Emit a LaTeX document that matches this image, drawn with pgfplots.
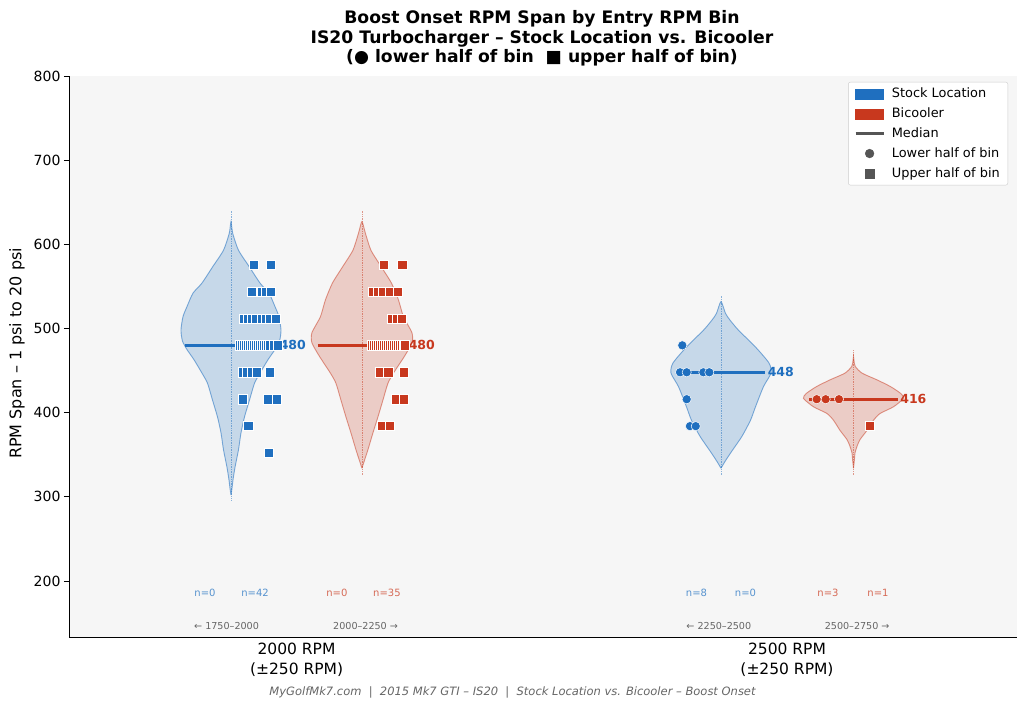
\documentclass[border=0pt]{standalone}
\usepackage{fontspec}
\setmainfont{DejaVu Sans}
\usepackage{pgfplots}
\pgfplotsset{compat=1.18}
\usepackage{pgfplotstable}
\definecolor{stockblue}{HTML}{1F6FBF}
\definecolor{bicred}{HTML}{C8381E}
\definecolor{bggray}{HTML}{F6F6F6}
\definecolor{legdark}{HTML}{555555}
\newcommand\fs[2]{\fontsize{#1}{#2}\selectfont}
\pgfplotsset{fp/.style={forget plot}}

% violin outlines: s = side (+1 right, -1 left), w = fraction of max half-width
\pgfplotstableread{
y w s
302 0 1
310 0.02 1
320 0.04 1
335 0.08 1
356 0.15 1
376 0.20 1
395 0.27 1
415 0.37 1
435 0.47 1
447 0.58 1
463 0.74 1
475 0.88 1
485 0.97 1
498 1.00 1
514 0.96 1
526 0.88 1
542 0.76 1
554 0.58 1
573 0.37 1
593 0.15 1
613 0.035 1
627 0 1
613 0.035 -1
593 0.15 -1
573 0.37 -1
554 0.58 -1
542 0.76 -1
526 0.88 -1
514 0.96 -1
498 1.00 -1
485 0.97 -1
475 0.88 -1
463 0.74 -1
447 0.58 -1
435 0.47 -1
415 0.37 -1
395 0.27 -1
376 0.20 -1
356 0.15 -1
335 0.08 -1
320 0.04 -1
310 0.02 -1
302 0 -1
}\vSA
\pgfplotstableread{
y w s
334 0 1
345 0.06 1
356 0.12 1
376 0.22 1
395 0.32 1
415 0.42 1
435 0.52 1
447 0.63 1
467 0.85 1
483 1.00 1
495 1.00 1
514 0.83 1
534 0.73 1
554 0.59 1
573 0.39 1
593 0.18 1
613 0.07 1
627 0 1
613 0.07 -1
593 0.18 -1
573 0.39 -1
554 0.59 -1
534 0.73 -1
514 0.83 -1
495 1.00 -1
483 1.00 -1
467 0.85 -1
447 0.63 -1
435 0.52 -1
415 0.42 -1
395 0.32 -1
376 0.22 -1
356 0.12 -1
345 0.06 -1
334 0 -1
}\vBA
\pgfplotstableread{
y w s
334 0 1
342 0.08 1
352 0.19 1
372 0.42 1
391 0.59 1
407 0.69 1
431 0.85 1
447 1.00 1
459 0.96 1
478 0.69 1
498 0.35 1
510 0.18 1
518 0.09 1
532 0 1
518 0.09 -1
510 0.18 -1
498 0.35 -1
478 0.69 -1
459 0.96 -1
447 1.00 -1
431 0.85 -1
407 0.69 -1
391 0.59 -1
372 0.42 -1
352 0.19 -1
342 0.08 -1
334 0 -1
}\vSB
\pgfplotstableread{
y w s
334 0 1
345 0.02 1
352 0.03 1
360 0.07 1
368 0.13 1
379 0.27 1
391 0.40 1
399 0.53 1
407 0.80 1
417 1.00 1
423 0.94 1
431 0.74 1
439 0.47 1
447 0.17 1
455 0.035 1
462 0.01 1
467 0 1
462 0.01 -1
455 0.035 -1
447 0.17 -1
439 0.47 -1
431 0.74 -1
423 0.94 -1
417 1.00 -1
407 0.80 -1
399 0.53 -1
391 0.40 -1
379 0.27 -1
368 0.13 -1
360 0.07 -1
352 0.03 -1
345 0.02 -1
334 0 -1
}\vBB

\begin{document}
\begin{tikzpicture}
\path[use as bounding box, fill=white] (0pt,0pt) rectangle (1024pt,709pt);
\begin{axis}[
  at={(69pt,72pt)}, anchor=south west,
  width=948pt, height=561pt, scale only axis,
  xmin=-0.464, xmax=1.469, ymin=133.5, ymax=800,
  axis background/.style={fill=bggray},
  axis x line*=bottom, axis y line*=left,
  axis line style={black, line width=0.9pt},
  xtick={0,1},
  xticklabels={{2000 RPM\\(±250 RPM)},{2500 RPM\\(±250 RPM)}},
  xticklabel style={align=center, font=\fs{15.5}{20}, yshift=3pt},
  xtick style={draw=none},
  ytick={200,300,400,500,600,700,800},
  yticklabel style={font=\fs{14}{16}},
  tick align=outside, ytick style={black, line width=0.8pt}, major tick length=5pt,
  /pgf/number format/assume math mode=true,
  legend style={at={(1,1)}, anchor=north east, xshift=-9pt, yshift=-6pt,
    draw=black!20, fill=white, rounded corners=2pt, font=\fs{12.9}{15},
    row sep=4.6pt, column sep=5pt, inner xsep=6pt, inner ysep=4pt},
  legend cell align=left,
]
\addlegendimage{legend image code/.code={\fill[stockblue, sharp corners] (0pt,-5pt) rectangle (28pt,5pt);}}
\addlegendentry{Stock Location}
\addlegendimage{legend image code/.code={\fill[bicred, sharp corners] (0pt,-5pt) rectangle (28pt,5pt);}}
\addlegendentry{Bicooler}
\addlegendimage{legend image code/.code={\draw[legdark, line width=2.5pt, sharp corners] (0pt,0pt) -- (28pt,0pt);}}
\addlegendentry{Median}
\addlegendimage{legend image code/.code={\fill[legdark] (14pt,0pt) circle (4.4pt);}}
\addlegendentry{Lower half of bin}
\addlegendimage{legend image code/.code={\fill[legdark, sharp corners] (9.6pt,-4.4pt) rectangle (18.4pt,4.4pt);}}
\addlegendentry{Upper half of bin}

% ---- violins ----
\addplot[fp, smooth, tension=0.4, draw=stockblue, draw opacity=0.55, line width=0.9pt, fill=stockblue, fill opacity=0.22] table[x expr=-0.1337+0.102*\thisrow{s}*\thisrow{w}, y=y]{\vSA};
\addplot[fp, smooth, tension=0.4, draw=bicred, draw opacity=0.5, line width=0.9pt, fill=bicred, fill opacity=0.22] table[x expr=0.1333+0.102*\thisrow{s}*\thisrow{w}, y=y]{\vBA};
\addplot[fp, smooth, tension=0.4, draw=stockblue, draw opacity=0.55, line width=0.9pt, fill=stockblue, fill opacity=0.22] table[x expr=0.8654+0.102*\thisrow{s}*\thisrow{w}, y=y]{\vSB};
\addplot[fp, smooth, tension=0.4, draw=bicred, draw opacity=0.5, line width=0.9pt, fill=bicred, fill opacity=0.22] table[x expr=1.1356+0.102*\thisrow{s}*\thisrow{w}, y=y]{\vBB};

% ---- dotted centre lines ----
\addplot[fp, densely dotted, stockblue, opacity=0.5, line width=0.7pt] coordinates {(-0.1337,296) (-0.1337,641)};
\addplot[fp, densely dotted, bicred, opacity=0.5, line width=0.7pt] coordinates {(0.1333,326) (0.1333,641)};
\addplot[fp, densely dotted, stockblue, opacity=0.5, line width=0.7pt] coordinates {(0.8654,326) (0.8654,540)};
\addplot[fp, densely dotted, bicred, opacity=0.5, line width=0.7pt] coordinates {(1.1356,326) (1.1356,474)};

% ---- medians ----
\addplot[fp, stockblue, line width=2.8pt] coordinates {(-0.2277,480) (-0.0397,480)};
\addplot[fp, bicred, line width=2.8pt] coordinates {(0.0433,480) (0.2233,480)};
\addplot[fp, stockblue, line width=2.8pt] coordinates {(0.7754,448) (0.9554,448)};
\addplot[fp, bicred, line width=2.8pt] coordinates {(1.0456,416) (1.2256,416)};

% ---- points: stock, upper half (squares) ----
\addplot[fp, only marks, mark=square*, mark size=4.6pt, mark options={fill=stockblue, draw=white, line width=0.5pt}] coordinates {
(-0.0869,576) (-0.0528,576)
(-0.0909,544) (-0.0705,544) (-0.0624,544) (-0.0522,544)
(-0.1072,512) (-0.0991,512) (-0.0909,512) (-0.0828,512) (-0.0705,512) (-0.0624,512) (-0.0542,512) (-0.0420,512)
(-0.1154,480) (-0.1113,480) (-0.1072,480) (-0.1032,480) (-0.0991,480) (-0.0950,480) (-0.0909,480) (-0.0869,480) (-0.0828,480)
(-0.0787,480) (-0.0746,480) (-0.0705,480) (-0.0665,480) (-0.0624,480) (-0.0583,480) (-0.0542,480) (-0.0461,480) (-0.0379,480)
(-0.1093,448) (-0.1011,448) (-0.0909,448) (-0.0807,448) (-0.0542,448)
(-0.1099,416) (-0.0577,416) (-0.0406,416)
(-0.0985,384)
(-0.0563,352)
};
% ---- points: bicooler, upper half (squares) ----
\addplot[fp, only marks, mark=square*, mark size=4.6pt, mark options={fill=bicred, draw=white, line width=0.5pt}] coordinates {
(0.1782,576) (0.2155,576)
(0.1558,544) (0.1660,544) (0.1761,544) (0.1904,544) (0.2067,544)
(0.1945,512) (0.2047,512) (0.2149,512)
(0.1537,480) (0.1578,480) (0.1619,480) (0.1660,480) (0.1700,480) (0.1741,480) (0.1782,480) (0.1823,480) (0.1863,480)
(0.1904,480) (0.1945,480) (0.1986,480) (0.2027,480) (0.2067,480) (0.2108,480) (0.2149,480) (0.2190,480) (0.2210,480)
(0.1700,448) (0.1870,448) (0.2190,448)
(0.2027,416) (0.2190,416)
(0.1735,384) (0.1904,384)
(1.1692,384)
};
% ---- points: lower half (circles) ----
\addplot[fp, only marks, mark=*, mark size=4.6pt, mark options={fill=stockblue, draw=white, line width=0.5pt}] coordinates {
(0.7865,480)
(0.7819,448) (0.7955,448) (0.8294,448) (0.8416,448)
(0.7955,416)
(0.8022,384) (0.8139,384)
};
\addplot[fp, only marks, mark=*, mark size=4.6pt, mark options={fill=bicred, draw=white, line width=0.5pt}] coordinates {
(1.0606,416) (1.0789,416) (1.1060,416)
};

% ---- median labels ----
\node[anchor=west, inner sep=1pt, font=\bfseries\fs{12.5}{14}, text=stockblue] at (axis cs:-0.0367,480) {480};
\node[anchor=west, inner sep=1pt, font=\bfseries\fs{12.5}{14}, text=bicred] at (axis cs:0.2263,480) {480};
\node[anchor=west, inner sep=1pt, font=\bfseries\fs{12.5}{14}, text=stockblue] at (axis cs:0.9584,448) {448};
\node[anchor=west, inner sep=1pt, font=\bfseries\fs{12.5}{14}, text=bicred] at (axis cs:1.2286,416) {416};

% ---- n labels ----
\node[font=\fs{10}{12}, text=stockblue!75!white] at (axis cs:-0.1867,185.8) {n=0};
\node[font=\fs{10}{12}, text=stockblue!75!white] at (axis cs:-0.0847,185.8) {n=42};
\node[font=\fs{10}{12}, text=bicred!75!white] at (axis cs:0.0823,185.8) {n=0};
\node[font=\fs{10}{12}, text=bicred!75!white] at (axis cs:0.1843,185.8) {n=35};
\node[font=\fs{10}{12}, text=stockblue!75!white] at (axis cs:0.8154,185.8) {n=8};
\node[font=\fs{10}{12}, text=stockblue!75!white] at (axis cs:0.9154,185.8) {n=0};
\node[font=\fs{10}{12}, text=bicred!75!white] at (axis cs:1.0836,185.8) {n=3};
\node[font=\fs{10}{12}, text=bicred!75!white] at (axis cs:1.1856,185.8) {n=1};

% ---- bin labels ----
\node[font=\fs{9.6}{12}, text=black!60] at (axis cs:-0.1427,146.6) {← 1750–2000};
\node[font=\fs{9.6}{12}, text=black!60] at (axis cs:0.1407,146.6) {2000–2250 →};
\node[font=\fs{9.6}{12}, text=black!60] at (axis cs:0.8610,146.6) {← 2250–2500};
\node[font=\fs{9.6}{12}, text=black!60] at (axis cs:1.1431,146.6) {2500–2750 →};
\end{axis}

% ---- titles, axis label, footer ----
\node[anchor=base, font=\bfseries\fs{17.2}{20}] at (542pt,685.5pt) {Boost Onset RPM Span by Entry RPM Bin};
\node[anchor=base, font=\bfseries\fs{17.2}{20}] at (542pt,665.7pt) {IS20 Turbocharger – Stock Location vs. Bicooler};
\node[anchor=base, font=\bfseries\fs{17.2}{20}] at (542pt,646.2pt) {(● lower half of bin\ \ ■ upper half of bin)};
\node[rotate=90, font=\fs{16}{18}] at (17pt,355.5pt) {RPM Span – 1 psi to 20 psi};
\node[font=\itshape\fs{11.5}{13}, text=black!60] at (512.5pt,17pt) {MyGolfMk7.com\ \ |\ \ 2015 Mk7 GTI – IS20\ \ |\ \ Stock Location vs. Bicooler – Boost Onset};
\end{tikzpicture}
\end{document}
